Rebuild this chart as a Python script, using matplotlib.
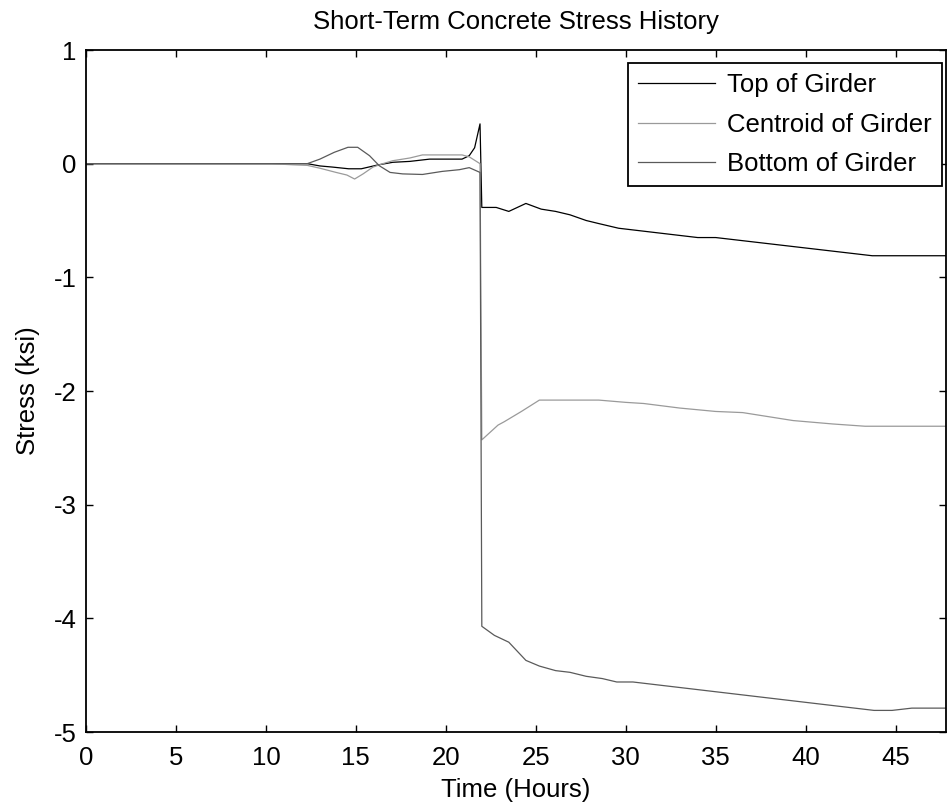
import numpy as np
import matplotlib
matplotlib.use("Agg")
import matplotlib.pyplot as plt

plt.rcParams['font.family'] = ['Liberation Sans', 'DejaVu Sans']
plt.rcParams['axes.unicode_minus'] = False

# Stress histories (ksi) vs time (hours)
t_top = [0, 10.3, 12.3, 13.0, 13.7, 14.6, 15.3, 16.2, 17.05, 18.0, 19.1, 20.9,
         21.3, 21.6, 21.9, 22.0, 22.8, 23.5, 24.45, 25.3, 26.1, 26.9, 27.8,
         28.5, 29.6, 34.0, 35.0, 43.7, 47.8]
s_top = [0, 0, 0, -0.02, -0.03, -0.045, -0.045, -0.012, 0.012, 0.02, 0.04, 0.04,
         0.07, 0.14, 0.35, -0.385, -0.385, -0.42, -0.35, -0.40, -0.42, -0.45, -0.50,
         -0.527, -0.568, -0.65, -0.65, -0.81, -0.81]

t_cen = [0, 10.3, 11.5, 12.3, 13.0, 13.9, 14.5, 14.93, 15.4, 15.95, 16.5, 17.05,
         18.0, 18.7, 20.9, 21.3, 21.9, 22.0, 22.9, 23.25, 24.2, 25.2, 28.5, 30.0,
         31.0, 33.0, 35.0, 36.5, 39.3, 41.5, 43.3, 47.8]
s_cen = [0, 0, -0.01, -0.015, -0.04, -0.077, -0.10, -0.135, -0.09, -0.03, 0.0, 0.026,
         0.05, 0.077, 0.077, 0.06, 0.0, -2.43, -2.30, -2.27, -2.18, -2.08, -2.08, -2.10,
         -2.11, -2.15, -2.18, -2.19, -2.26, -2.29, -2.31, -2.31]

t_bot = [0, 10.3, 12.3, 13.0, 13.8, 14.56, 15.1, 15.76, 16.3, 16.9, 17.6, 18.7,
         19.8, 20.75, 21.3, 21.9, 22.0, 22.7, 23.5, 24.45, 25.2, 26.1, 26.9, 27.8,
         28.7, 29.5, 30.4, 43.8, 44.8, 45.9, 47.8]
s_bot = [0, 0, 0, 0.04, 0.10, 0.144, 0.144, 0.07, -0.018, -0.077, -0.09, -0.095,
         -0.068, -0.053, -0.035, -0.077, -4.07, -4.15, -4.21, -4.37, -4.42, -4.46, -4.475, -4.51,
         -4.53, -4.56, -4.56, -4.81, -4.81, -4.79, -4.79]

x_ticks = [0, 5, 10, 15, 20, 25, 30, 35, 40, 45]
y_ticks = [-5, -4, -3, -2, -1, 0, 1]

fs = 18.5

fig = plt.figure(figsize=(9.48, 8.08), dpi=100)
ax = fig.add_axes([86 / 948, 1 - 732 / 808, 860 / 948, 682 / 808])

ax.plot(t_top, s_top, color='black', lw=0.9, label='Top of Girder')
ax.plot(t_cen, s_cen, color='#9a9a9a', lw=0.9, label='Centroid of Girder')
ax.plot(t_bot, s_bot, color='#5a5a5a', lw=0.9, label='Bottom of Girder')

ax.set_xlim(0, 47.8)
ax.set_ylim(-5, 1)
ax.set_xticks(x_ticks)
ax.set_yticks(y_ticks)
ax.tick_params(direction='in', length=5, width=1, top=True, right=True,
               labelsize=fs, colors='black')
ax.tick_params(axis='x', pad=10)
ax.tick_params(axis='y', pad=7)
for sp in ax.spines.values():
    sp.set_linewidth(1.3)

ax.set_title('Short-Term Concrete Stress History', fontsize=fs, pad=15)
ax.set_xlabel('Time (Hours)', fontsize=fs, labelpad=6)
ax.set_ylabel('Stress (ksi)', fontsize=fs, labelpad=10)

leg = ax.legend(loc='upper right', bbox_to_anchor=(0.995, 0.981), fontsize=fs,
                fancybox=False, framealpha=1, edgecolor='black',
                handlelength=3.0, handletextpad=0.45, labelspacing=0.6,
                borderpad=0.4, borderaxespad=0)
leg.get_frame().set_linewidth(1.3)

fig.savefig('out.png', dpi=100)
